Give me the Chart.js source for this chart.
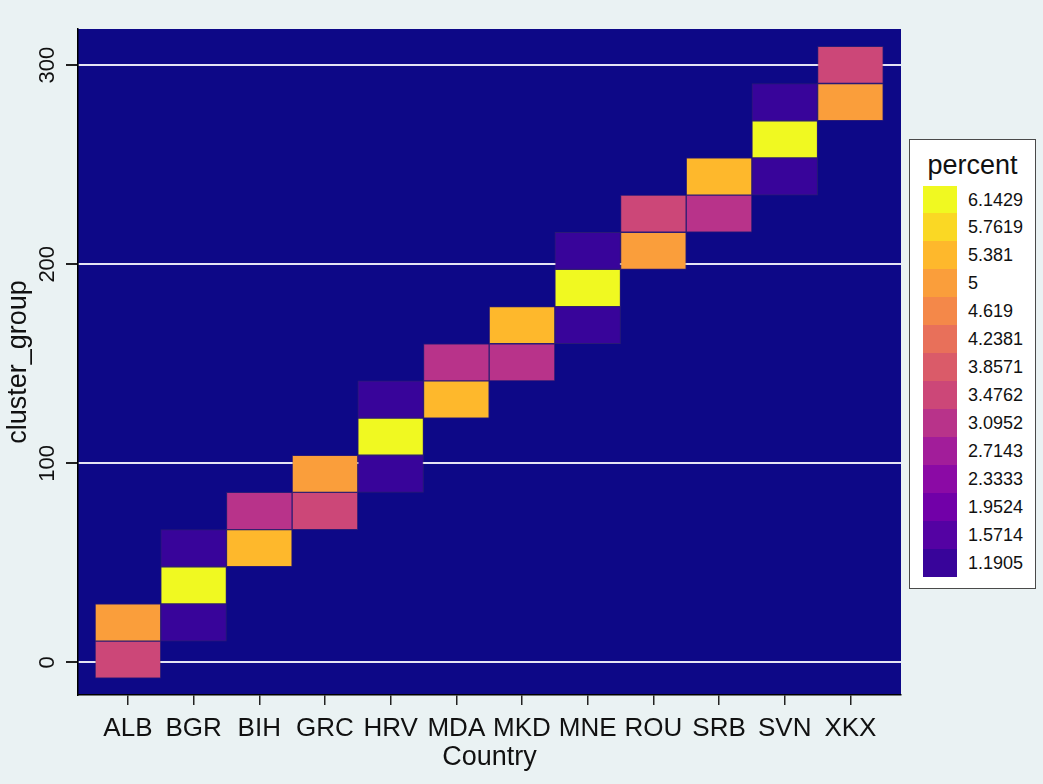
<!DOCTYPE html>
<html>
<head>
<meta charset="utf-8">
<script src="https://cdn.jsdelivr.net/npm/chart.js@4"></script>
<style>
  html, body { margin: 0; padding: 0; background: #eaf2f3; }
  #wrap { position: relative; width: 1043px; height: 784px; }
  #heat { position: absolute; left: 0; top: 0; }
  .legend {
    position: absolute; left: 909px; top: 139px; width: 127px; height: 450px;
    box-sizing: border-box; border: 1.5px solid #4a4a4a; background: #fff;
    font-family: "Liberation Sans", Arial, sans-serif; color: #111;
  }
  .legend .ttl { position: absolute; left: 0; right: 0; top: 8px; text-align: center; font-size: 27px; line-height: 34px; }
  .legend .sw { position: absolute; left: 13px; width: 34px; }
  .legend .lb { position: absolute; left: 58px; font-size: 18px; }
</style>
</head>
<body>
<div id="wrap">
  <canvas id="heat" width="1043" height="784"></canvas>
  <div class="legend" id="legend"><div class="ttl">percent</div></div>
</div>
<script>
const countries = ['ALB', 'BGR', 'BIH', 'GRC', 'HRV', 'MDA', 'MKD', 'MNE', 'ROU', 'SRB', 'SVN', 'XKX'];

// colour levels (legend), low -> high
const levels = [1.1905, 1.5714, 1.9524, 2.3333, 2.7143, 3.0952, 3.4762, 3.8571, 4.2381, 4.619, 5, 5.381, 5.7619, 6.1429];
const levelColors = ['#38049a', '#5402a3', '#7100a8', '#8b0aa5', '#a21d9a', '#b8338a', '#cc4778',
                     '#da5b69', '#e8705a', '#f48849', '#fa9e3b', '#feb82c', '#fad824', '#f0f921'];

// cluster_group bins: 17 bins of equal width
const binStart = -8;
const binWidth = 18.675;

// one entry per filled cell
const cellCountry = [0, 0, 1, 1, 1, 2, 2, 3, 3, 4, 4, 4, 5, 5, 6, 6, 7, 7, 7, 8, 8, 9, 9, 10, 10, 10, 11, 11];
const cellBin     = [0, 1, 1, 2, 3, 3, 4, 4, 5, 5, 6, 7, 7, 8, 8, 9, 9, 10, 11, 11, 12, 12, 13, 13, 14, 15, 15, 16];
const cellPercent = [3.4762, 5, 1.1905, 6.1429, 1.1905, 5.381, 3.0952, 3.4762, 5, 1.1905, 6.1429, 1.1905,
                     5.381, 3.0952, 3.0952, 5.381, 1.1905, 6.1429, 1.1905, 5, 3.4762, 3.0952, 5.381,
                     1.1905, 6.1429, 1.1905, 5, 3.4762];

const yTicks = [0, 100, 200, 300];

const FONT = '"Liberation Sans", Arial, sans-serif';
const colorFor = v => levelColors[levels.indexOf(v)];

const cells = cellCountry.map((c, i) => ({
  x: c,
  y: [binStart + cellBin[i] * binWidth, binStart + (cellBin[i] + 1) * binWidth]
}));

// legend (top = highest level)
const legendEl = document.getElementById('legend');
levels.slice().reverse().forEach((v, i) => {
  const top = 45.5 + i * 27.93;
  const sw = document.createElement('div');
  sw.className = 'sw';
  sw.style.top = top + 'px';
  sw.style.height = '28px';
  sw.style.background = colorFor(v);
  legendEl.appendChild(sw);
  const lb = document.createElement('div');
  lb.className = 'lb';
  lb.style.top = top + 'px';
  lb.style.lineHeight = '28px';
  lb.textContent = String(v);
  legendEl.appendChild(lb);
});

const plotBg = {
  id: 'plotBg',
  beforeDraw(chart) {
    const { ctx, chartArea: a } = chart;
    ctx.save();
    ctx.fillStyle = '#0d0887';
    ctx.fillRect(a.left, a.top, a.right - a.left, a.bottom - a.top);
    ctx.restore();
  },
  afterDraw(chart) {
    const { ctx, chartArea: a } = chart;
    const ys = chart.scales.y;
    ctx.save();
    ctx.fillStyle = '#111';
    ctx.textAlign = 'center';
    ctx.textBaseline = 'middle';
    // y tick labels, vertical
    ctx.font = '22px ' + FONT;
    yTicks.forEach(v => {
      ctx.save();
      ctx.translate(47, ys.getPixelForValue(v));
      ctx.rotate(-Math.PI / 2);
      ctx.fillText(String(v), 0, 1);
      ctx.restore();
    });
    // axis titles
    ctx.font = '27px ' + FONT;
    ctx.save();
    ctx.translate(19, (a.top + a.bottom) / 2);
    ctx.rotate(-Math.PI / 2);
    ctx.fillText('cluster_group', 0, 0);
    ctx.restore();
    ctx.fillText('Country', (a.left + a.right) / 2, 758);
    ctx.restore();
  }
};

new Chart(document.getElementById('heat'), {
  type: 'bar',
  data: {
    datasets: [{
      data: cells,
      backgroundColor: cellPercent.map(colorFor),
      borderColor: 'rgba(110,70,80,0.3)',
      borderWidth: 1,
      borderSkipped: false,
      barPercentage: 1,
      categoryPercentage: 1
    }]
  },
  options: {
    responsive: false,
    animation: false,
    layout: { padding: { left: 0, top: 29, right: 142, bottom: 0 } },
    plugins: { legend: { display: false }, tooltip: { enabled: false } },
    scales: {
      x: {
        type: 'linear', min: -0.76, max: 11.77, offset: false,
        afterBuildTicks: s => { s.ticks = countries.map((_, i) => ({ value: i })); },
        afterFit: s => { s.height = 89; },
        ticks: {
          autoSkip: false, maxRotation: 0, minRotation: 0, padding: 8, color: '#111',
          font: { family: FONT, size: 26 },
          callback: v => countries[v]
        },
        grid: { offset: false, drawOnChartArea: false, tickLength: 10, tickColor: '#222', lineWidth: 1.5 },
        border: { color: '#000', width: 1.5 }
      },
      y: {
        min: -16.4, max: 318.2,
        afterBuildTicks: s => { s.ticks = yTicks.map(v => ({ value: v })); },
        afterFit: s => { s.width = 78; },
        ticks: { display: false },
        grid: { color: '#e4e4f4', lineWidth: 2, tickLength: 12, tickColor: '#222' },
        border: { color: '#000', width: 1.5 }
      }
    }
  },
  plugins: [plotBg]
});
</script>
</body>
</html>
